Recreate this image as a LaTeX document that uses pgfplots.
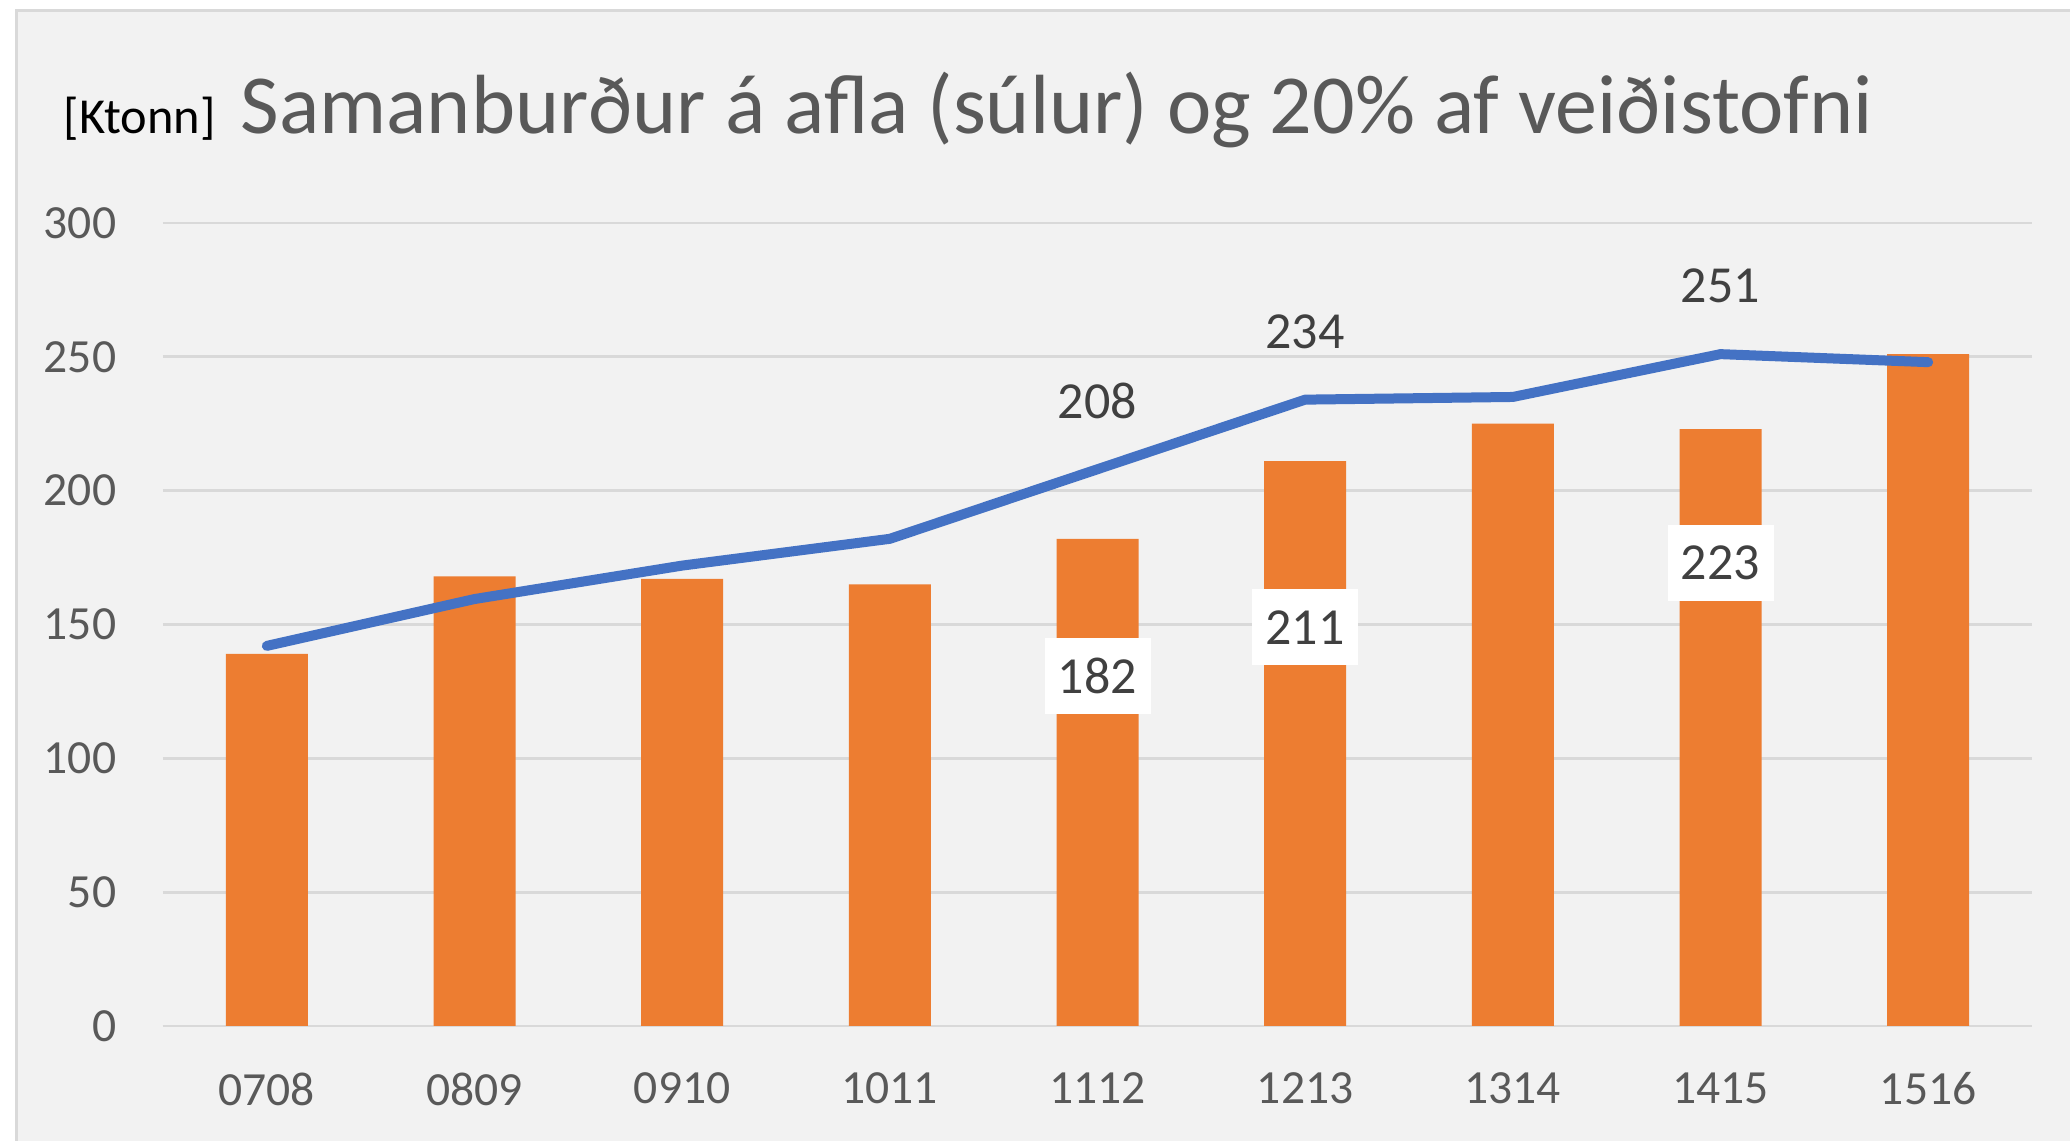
\documentclass[border=0pt]{standalone}
\usepackage{fontspec}
\setmainfont{Carlito}
\usepackage{pgfplots}
\pgfplotsset{compat=1.18}
\definecolor{barorange}{HTML}{ED7D31}
\definecolor{lineblue}{HTML}{4472C4}
\definecolor{gridgray}{HTML}{D9D9D9}
\definecolor{bggray}{HTML}{F2F2F2}
\definecolor{textgray}{HTML}{595959}
\definecolor{labelgray}{HTML}{404040}

\begin{document}
\begin{tikzpicture}[x=0.25pt,y=0.25pt]
% page is 2070 x 1141 units, one unit per reference pixel
\useasboundingbox (0,0) rectangle (2070,1141);
\fill[white] (0,0) rectangle (2070,1141);
\fill[bggray] (15,0) rectangle (2070,1132);
\draw[gridgray, line width=0.9pt] (16.5,0) -- (16.5,1130.5) -- (2070,1130.5);

\node[anchor=base west, inner sep=0pt, font=\fontsize{12.6}{15}\selectfont] at (63,1007) {[Ktonn]};
\node[anchor=base west, inner sep=0pt, text=textgray, font=\fontsize{21}{25}\selectfont]
  at (240,1007) {Samanburður á afla (súlur) og 20\% af veiðistofni};

\begin{axis}[
    at={(40.75pt,28.75pt)}, anchor=south west,
    scale only axis,
    width=467.25pt, height=200.75pt,
    xmin=-0.5, xmax=8.5,
    ymin=0, ymax=300,
    xtick={0,...,8},
    xticklabels={0708,0809,0910,1011,1112,1213,1314,1415,1516},
    ytick={0,50,...,300},
    ymajorgrids,
    grid style={gridgray, line width=0.7pt},
    axis x line*=bottom,
    axis y line*=left,
    x axis line style={gridgray, line width=0.7pt, -},
    y axis line style={draw=none},
    tick style={draw=none},
    major tick length=0pt,
    tick label style={text=textgray, font=\fontsize{11.9}{14}\selectfont},
    /pgf/number format/assume math mode=true,
    yticklabel style={anchor=east, inner sep=0pt, xshift=-11.5pt},
    xticklabel style={anchor=north, inner sep=0pt, yshift=-11.5pt},
    clip=false,
]
% catch (bars)
\addplot[ybar, bar width=20.5pt, fill=barorange, draw=none] coordinates {
  (0,139) (1,168) (2,167) (3,165) (4,182) (5,211) (6,225) (7,223) (8,251)
};
% 20% of fishable stock (line)
\addplot[lineblue, line width=2.5pt, line cap=round, line join=round] coordinates {
  (0,142) (1,159.5) (2,172) (3,182) (4,208) (5,234) (6,235) (7,251) (8,248)
};
% labels above the line
\addplot[draw=none, nodes near coords, point meta=explicit symbolic,
  every node near coord/.append style={anchor=center, yshift=17pt, text=labelgray,
    font=\fontsize{13}{15}\selectfont}]
  coordinates {(4,208) [208] (5,234) [234] (7,251) [251]};
% boxed labels on the bars
\addplot[draw=none, nodes near coords, point meta=explicit symbolic,
  every node near coord/.append style={anchor=center, yshift=0pt, fill=white, inner sep=0pt,
    minimum width=26.5pt, minimum height=19pt, text=labelgray,
    font=\fontsize{13}{15}\selectfont}]
  coordinates {(4,130.7) [182] (5,149) [211] (7,173) [223]};
\end{axis}
\end{tikzpicture}
\end{document}
